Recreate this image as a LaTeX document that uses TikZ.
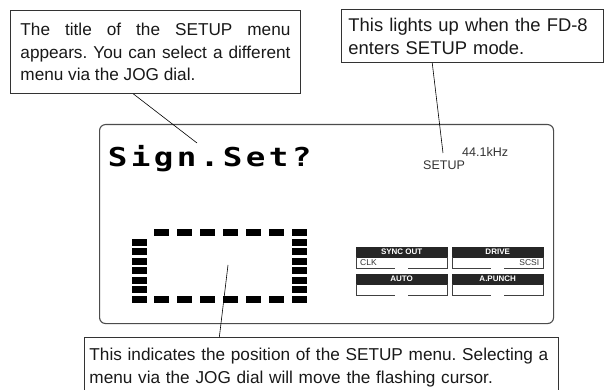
\documentclass[tikz,border=0pt]{standalone}
\usepackage{fontspec}
\setmainfont{Liberation Sans}
\newfontfamily\lcdfont{DejaVu Sans Mono}
\usetikzlibrary{calc}
\frenchspacing
\def\lcdchars#1{\ifx#1\relax\else\makebox[18.4pt][c]{#1}\expandafter\lcdchars\fi}
\begin{document}
\begin{tikzpicture}[x=1pt,y=-1pt,
  box/.style={draw=black!80, line width=0.9pt, anchor=north west, inner ysep=0pt, inner xsep=10pt, font=\fontsize{17.2}{22.5}\selectfont, text=black!90},
  lead/.style={draw=black, line width=0.6pt},
  hdr/.style={fill=black!85, draw=black!85, anchor=north west, minimum width=91, minimum height=10, inner sep=0pt, text=white, font=\bfseries\fontsize{8}{8}\selectfont},
  frame/.style={draw=black!75, line width=0.7pt},
  val/.style={inner sep=0pt, font=\fontsize{8.5}{8.5}\selectfont, text=black!80},
  lcdlbl/.style={inner sep=0pt, anchor=base west, font=\fontsize{12.5}{12.5}\selectfont, text=black!80},
  seg/.style={fill=black}]
\path[fill=white] (0,0) rectangle (605,390);
\useasboundingbox (0,0) rectangle (605,390);

% callout boxes
\node[box, minimum width=290, minimum height=83, text width=270, align=justify] (title) at (10,10)
  {The title of the SETUP menu\linebreak appears. You can select a different\linebreak menu via the JOG dial.};
\node[box, inner xsep=7pt, minimum width=262, minimum height=53, text width=248, align=left, font=\fontsize{18.4}{23}\selectfont] (mode) at (341,9)
  {This lights up when the FD-8\\enters SETUP mode.};
\node[box, inner xsep=5pt, minimum width=474, minimum height=60, text width=464, align=left, font=\fontsize{17.2}{23}\selectfont] (pos) at (84,337)
  {This indicates the position of the SETUP menu. Selecting a\\menu via the JOG dial will move the flashing cursor.};

% LCD panel
\node[draw=black!70, line width=1.1pt, rounded corners=6pt, anchor=north west, minimum width=454, minimum height=199, inner sep=0pt] (lcd) at (99,124) {};
\node[inner sep=0pt, anchor=base west] (sign) at (106,166.5)
  {\scalebox{1.25}[1]{\lcdfont\bfseries\fontsize{26}{26}\selectfont\lcdchars Sign.Set?\relax}};
\node[lcdlbl] (khz) at (462,157) {44.1kHz};
\node[lcdlbl] (setup) at (423,170) {SETUP};

% menu position cursor
\foreach \x in {154,177,...,269} {
  \fill[seg] (\x,229) rectangle +(15,7);
  \fill[seg] (\x,296) rectangle +(15,7);
}
\foreach \i in {0,...,7} \fill[seg] (292,229+\i*9.57) rectangle +(15,7);
\foreach \i in {1,...,7} \fill[seg] (132,229+\i*9.57) rectangle +(15,7);

% status indicators
\node[hdr] (sync) at (356,247) {SYNC OUT};
\node[hdr] (drive) at (452,247) {DRIVE};
\node[hdr] (auto) at (356,274) {AUTO};
\node[hdr] (apunch) at (452,274) {A.PUNCH};
\foreach \h in {sync,drive,auto,apunch} {
  \draw[frame] (\h.south west) -- ++(0,11) -- ++(39,0);
  \draw[frame] (\h.south east) -- ++(0,11) -- ++(-39,0);
}
\node[val, anchor=west] (clk) at ($(sync.south west)+(4,5.5)$) {CLK};
\node[val, anchor=east] (scsi) at ($(drive.south east)+(-4,5.5)$) {SCSI};

% leader lines
\coordinate (p1) at (197,143);
\coordinate (p2) at (443,153);
\coordinate (p3) at (228,265);
\draw[lead] ($(title.south west)!0.424!(title.south east)$) -- (p1);
\draw[lead] ($(mode.south west)!0.347!(mode.south east)$) -- (p2);
\draw[lead] ($(pos.north west)!0.285!(pos.north east)$) -- (p3);
\end{tikzpicture}
\end{document}
